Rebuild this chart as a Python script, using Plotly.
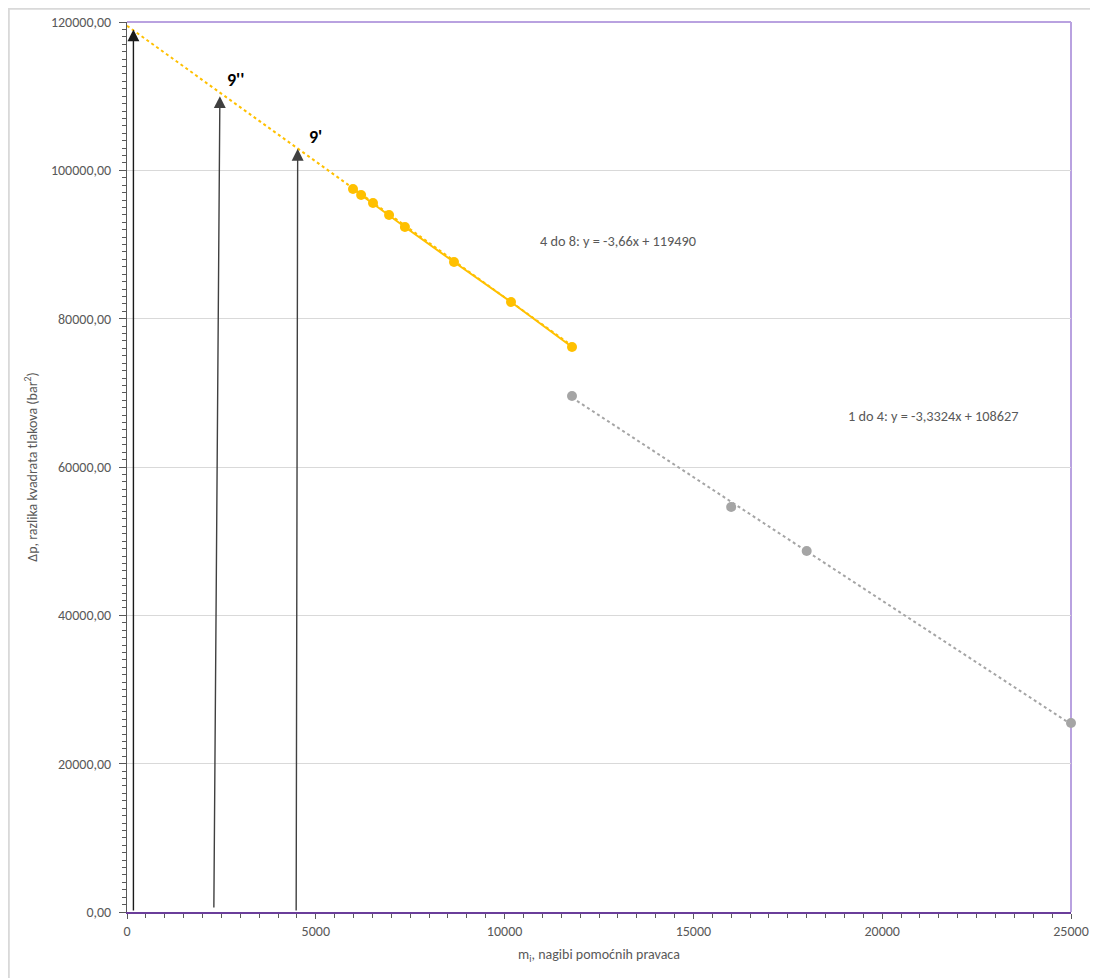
import plotly.graph_objects as go
import numpy as np

# ---- data ----
yellow_x = [5985, 6200, 6515, 6940, 7360, 8660, 10170, 11785]
yellow_y = [97480, 96670, 95590, 93970, 92360, 87640, 82240, 76180]
grey_x = [11785, 16000, 18000, 25000]
grey_y = [69570, 54600, 48670, 25480]

# trendline coefficients (as printed on the chart)
yellow_slope, yellow_intercept = -3.66, 119490
grey_slope, grey_intercept = -3.3324, 108627
yellow_trend_x = [0, 11785]
grey_trend_x = [11785, 25000]

# arrows: (tail_x, tail_y, tip_x, tip_y)
arrow_tail_x = [170, 2300, 4480]
arrow_tail_y = [0, 400, 0]
arrow_tip_x = [170, 2460, 4520]
arrow_tip_y = [119000, 110000, 102900]

point_labels = ["9''", "9'"]
point_label_x = [2890, 5005]
point_label_y = [112200, 104500]

eq_labels = ["4 do 8: y = -3,66x + 119490", "1 do 4: y = -3,3324x + 108627"]
eq_x = [13000, 21370]
eq_y = [90470, 66870]

FONT = "Carlito, Calibri, Lato, sans-serif"
GREY_TXT = "#595959"
YELLOW = "#FFC000"
GREY = "#A5A5A5"
FRAME = "#B9A2E0"

W, H = 1090, 970
ML, MR, MT, MB = 119, 27, 14, 66
PW, PH = W - ML - MR, H - MT - MB

fig = go.Figure()

ytx = np.array(yellow_trend_x, dtype=float)
fig.add_trace(go.Scatter(x=ytx, y=yellow_slope * ytx + yellow_intercept, mode="lines",
                         line=dict(color=YELLOW, width=2, dash="dot"), hoverinfo="skip"))
gtx = np.array(grey_trend_x, dtype=float)
fig.add_trace(go.Scatter(x=gtx, y=grey_slope * gtx + grey_intercept, mode="lines",
                         line=dict(color=GREY, width=2, dash="dot"), hoverinfo="skip"))

fig.add_trace(go.Scatter(x=yellow_x, y=yellow_y, mode="lines+markers",
                         line=dict(color=YELLOW, width=2),
                         marker=dict(color=YELLOW, size=10), cliponaxis=False))
fig.add_trace(go.Scatter(x=grey_x, y=grey_y, mode="markers",
                         marker=dict(color=GREY, size=10), cliponaxis=False))

annotations = []
arrow_colors = ["#1a1a1a", "#404040", "#404040"]
for tx, ty, hx, hy, c in zip(arrow_tail_x, arrow_tail_y, arrow_tip_x, arrow_tip_y, arrow_colors):
    annotations.append(dict(x=hx, y=hy, ax=tx, ay=ty, xref="x", yref="y", axref="x", ayref="y",
                            text="", showarrow=True, arrowhead=2, arrowsize=1.7, arrowwidth=1.4,
                            arrowcolor=c, standoff=0))
for t, x, y in zip(point_labels, point_label_x, point_label_y):
    annotations.append(dict(x=x, y=y, xref="x", yref="y", text="<b>" + t + "</b>", showarrow=False,
                            font=dict(family=FONT, size=18, color="#000000")))
for t, x, y in zip(eq_labels, eq_x, eq_y):
    annotations.append(dict(x=x, y=y, xref="x", yref="y", text=t, showarrow=False,
                            font=dict(family=FONT, size=14.3, color=GREY_TXT)))

fig.update_layout(
    width=W, height=H,
    margin=dict(l=ML, r=MR, t=MT, b=MB, autoexpand=False),
    paper_bgcolor="white", plot_bgcolor="white",
    showlegend=False,
    separators=", ",
    font=dict(family=FONT, size=14, color=GREY_TXT),
    annotations=annotations,
    shapes=[
        # top and right plot-area border (light purple)
        dict(type="line", xref="x domain", yref="y domain", x0=0, x1=1, y0=1, y1=1,
             line=dict(color=FRAME, width=2), layer="below"),
        dict(type="line", xref="x domain", yref="y domain", x0=1, x1=1, y0=0, y1=1,
             line=dict(color=FRAME, width=2), layer="below"),
        # outer chart border (light grey)
        dict(type="rect", xref="paper", yref="paper",
             x0=(0.8 - ML) / PW, x1=1.3, y0=-0.3, y1=(MT + PH - 0.8) / PH,
             line=dict(color="#D9D9D9", width=2), layer="below"),
    ],
)

fig.update_xaxes(
    range=[0, 25000], dtick=5000, tickformat="d", automargin=False,
    showgrid=False, zeroline=False,
    showline=True, linecolor="#6A3D9A", linewidth=2,
    ticks="outside", ticklen=5, tickcolor=GREY_TXT, tickwidth=1,
    minor=dict(dtick=500, ticks="outside", ticklen=4, tickcolor=GREY_TXT, tickwidth=1, showgrid=False),
    tickfont=dict(family=FONT, size=14, color=GREY_TXT),
    title=dict(text="m<sub>i</sub>, nagibi pomoćnih pravaca", standoff=10,
               font=dict(family=FONT, size=14, color=GREY_TXT)),
)
fig.update_yaxes(
    range=[0, 120000], dtick=20000, tickformat=".2f", automargin=False,
    showgrid=True, gridcolor="#D9D9D9", gridwidth=1, zeroline=False,
    showline=True, linecolor="#595959", linewidth=1,
    ticks="outside", ticklen=7, tickcolor=GREY_TXT, tickwidth=1, ticklabelstandoff=5,
    minor=dict(dtick=1000, ticks="outside", ticklen=4, tickcolor=GREY_TXT, tickwidth=1, showgrid=False),
    tickfont=dict(family=FONT, size=14, color=GREY_TXT),
    title=dict(text="Δp, razlika kvadrata tlakova (bar<sup>2</sup>)", standoff=10,
               font=dict(family=FONT, size=14, color=GREY_TXT)),
)

fig.write_html("out.html")
